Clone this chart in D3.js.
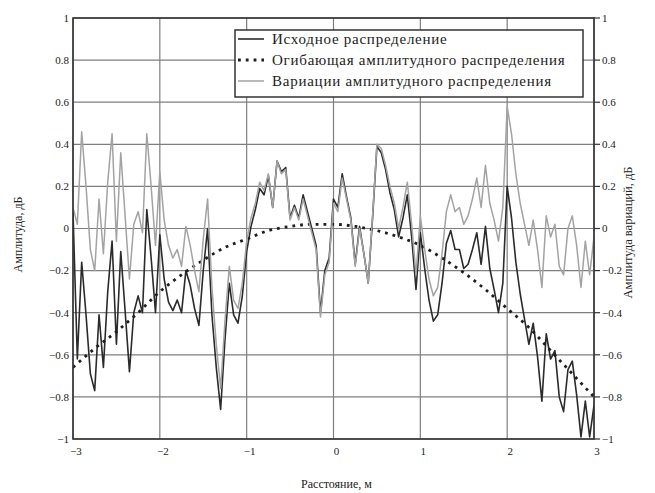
<!DOCTYPE html>
<html>
<head>
<meta charset="utf-8">
<script src="https://cdn.jsdelivr.net/npm/d3@7"></script>
<style>
  body { margin: 0; background: #fff; }
  text { font-family: "Liberation Serif", "DejaVu Serif", serif; fill: #222; }
</style>
</head>
<body>
<svg id="chart" width="655" height="493"></svg>
<script>
// Sampling grid along the distance axis, m (step 0.05)
const distance = d3.range(121).map(i => +(-3 + i * 0.05).toFixed(2));

// Original amplitude distribution, dB (left axis)
const original = [
  0.08, -0.62, -0.16, -0.41, -0.69, -0.77, -0.41, -0.66, -0.30, -0.06,
  -0.55, -0.11, -0.39, -0.68, -0.40, -0.32, -0.40, 0.09, -0.14, -0.40,
  -0.03, -0.24, -0.35, -0.39, -0.34, -0.40, -0.20, -0.27, -0.38, -0.46,
  -0.20, 0.00, -0.41, -0.66, -0.86, -0.53, -0.26, -0.41, -0.45, -0.32,
  -0.11, 0.01, 0.09, 0.19, 0.16, 0.25, 0.10, 0.32, 0.27, 0.29,
  0.05, 0.11, 0.05, 0.16, 0.08, 0.00, -0.08, -0.40, -0.20, -0.14,
  0.14, 0.10, 0.26, 0.15, 0.05, -0.17, 0.01, -0.12, -0.26, 0.05,
  0.39, 0.36, 0.28, 0.17, 0.09, -0.04, 0.05, 0.16, -0.04, -0.29,
  -0.02, -0.19, -0.34, -0.44, -0.41, -0.26, -0.07, -0.01, -0.10, -0.10,
  -0.19, -0.17, -0.10, -0.02, -0.17, 0.01, -0.19, -0.29, -0.40, -0.26,
  0.20, 0.05, -0.16, -0.31, -0.43, -0.55, -0.45, -0.61, -0.82, -0.50,
  -0.62, -0.58, -0.80, -0.87, -0.67, -0.63, -0.79, -0.99, -0.82, -0.99,
  -0.84
];

// Variations of the amplitude distribution, dB (right axis)
const variations = [
  0.10, 0.02, 0.46, 0.20, -0.10, -0.20, 0.14, -0.12, 0.22, 0.45,
  -0.06, 0.36, 0.06, -0.24, 0.02, 0.08, -0.02, 0.45, 0.20, -0.08,
  0.27, 0.04, -0.08, -0.14, -0.10, -0.18, 0.01, -0.08, -0.20, -0.30,
  -0.05, 0.14, -0.28, -0.55, -0.76, -0.44, -0.18, -0.34, -0.38, -0.26,
  -0.06, 0.05, 0.12, 0.22, 0.18, 0.26, 0.10, 0.32, 0.26, 0.28,
  0.04, 0.10, 0.04, 0.14, 0.06, -0.02, -0.10, -0.42, -0.22, -0.16,
  0.12, 0.08, 0.24, 0.14, 0.04, -0.18, 0.00, -0.12, -0.26, 0.06,
  0.40, 0.38, 0.30, 0.20, 0.12, 0.00, 0.10, 0.22, 0.02, -0.22,
  0.06, -0.10, -0.24, -0.32, -0.28, -0.12, 0.08, 0.16, 0.08, 0.10,
  0.02, 0.06, 0.14, 0.24, 0.10, 0.30, 0.12, 0.04, -0.06, 0.10,
  0.58, 0.45, 0.26, 0.12, 0.02, -0.08, 0.04, -0.10, -0.28, 0.06,
  -0.04, 0.02, -0.18, -0.22, 0.00, 0.06, -0.08, -0.28, -0.06, -0.22,
  -0.04
];

// Envelope of the amplitude distribution, dB
const envelopeDistance = [-3, -2.75, -2.5, -2.25, -2, -1.75, -1.5, -1.25, -1, -0.75, -0.5, -0.25,
  0, 0.25, 0.5, 0.75, 1, 1.25, 1.5, 1.75, 2, 2.25, 2.5, 2.75, 3];
const envelopeValues = [-0.66, -0.57, -0.49, -0.40, -0.30, -0.22, -0.15, -0.09, -0.05, -0.01, 0.01, 0.02,
  0.02, 0.01, -0.01, -0.04, -0.08, -0.14, -0.21, -0.29, -0.38, -0.47, -0.58, -0.69, -0.80];

const xTicks = [-3, -2, -1, 0, 1, 2, 3];
const yTicks = [-1, -0.8, -0.6, -0.4, -0.2, 0, 0.2, 0.4, 0.6, 0.8, 1];
const legendLabels = [
  "Исходное распределение",
  "Огибающая амплитудного распределения",
  "Вариации амплитудного распределения"
];
const xTitle = "Расстояние, м";
const yLeftTitle = "Амплитуда, дБ";
const yRightTitle = "Амплитуда вариаций, дБ";

const svg = d3.select("#chart");
const plot = { left: 73, right: 594, top: 18, bottom: 439 };

const x = d3.scaleLinear().domain([-3, 3]).range([plot.left, plot.right]);
const yLeft = d3.scaleLinear().domain([-1, 1]).range([plot.bottom, plot.top]);
const yRight = d3.scaleLinear().domain([-1, 1]).range([plot.bottom, plot.top]);

const fmt = v => d3.format("")(v).replace("-", "\u2212");

svg.append("defs").append("clipPath").attr("id", "plot-clip")
  .append("rect")
  .attr("x", plot.left).attr("y", plot.top)
  .attr("width", plot.right - plot.left).attr("height", plot.bottom - plot.top);

// Grid
const grid = svg.append("g").attr("stroke", "#7f7f7f").attr("stroke-width", 1.2);
grid.selectAll(".gx").data(xTicks).join("line")
  .attr("x1", d => x(d)).attr("x2", d => x(d))
  .attr("y1", plot.top).attr("y2", plot.bottom);
grid.selectAll(".gy").data(yTicks).join("line")
  .attr("x1", plot.left).attr("x2", plot.right)
  .attr("y1", d => yLeft(d)).attr("y2", d => yLeft(d));

// Series
const lines = svg.append("g").attr("clip-path", "url(#plot-clip)").attr("fill", "none");

const lineOriginal = d3.line().x((d, i) => x(distance[i])).y(d => yLeft(d));
const lineVariation = d3.line().x((d, i) => x(distance[i])).y(d => yRight(d));
const lineEnvelope = d3.line().curve(d3.curveMonotoneX)
  .x((d, i) => x(envelopeDistance[i])).y(d => yLeft(d));

lines.append("path").datum(original)
  .attr("d", lineOriginal)
  .attr("stroke", "#2b2b2b").attr("stroke-width", 1.6).attr("stroke-linejoin", "round");

lines.append("path").datum(envelopeValues)
  .attr("d", lineEnvelope)
  .attr("stroke", "#1e1e1e").attr("stroke-width", 2.8)
  .attr("stroke-dasharray", "2.8,5");

lines.append("path").datum(variations)
  .attr("d", lineVariation)
  .attr("stroke", "#a3a3a3").attr("stroke-width", 1.5).attr("stroke-linejoin", "round");

// Frame
svg.append("rect")
  .attr("x", plot.left).attr("y", plot.top)
  .attr("width", plot.right - plot.left).attr("height", plot.bottom - plot.top)
  .attr("fill", "none").attr("stroke", "#333").attr("stroke-width", 1.6);

// Left axis labels
svg.append("g").selectAll("text").data(yTicks).join("text")
  .attr("x", plot.left - 4).attr("y", d => yLeft(d))
  .attr("dy", "0.35em").attr("text-anchor", "end")
  .attr("font-size", 11).text(fmt);

// Right axis ticks and labels
const right = svg.append("g");
right.selectAll("line").data(yTicks).join("line")
  .attr("x1", plot.right).attr("x2", plot.right + 6)
  .attr("y1", d => yRight(d)).attr("y2", d => yRight(d))
  .attr("stroke", "#333").attr("stroke-width", 1.2);
right.selectAll("text").data(yTicks).join("text")
  .attr("x", plot.right + 8).attr("y", d => yRight(d))
  .attr("dy", "0.35em").attr("text-anchor", "start")
  .attr("font-size", 11).text(fmt);

// Bottom axis labels
svg.append("g").selectAll("text").data(xTicks).join("text")
  .attr("x", d => x(d) + 3).attr("y", plot.bottom + 16)
  .attr("text-anchor", "middle").attr("font-size", 11).text(fmt);

// Axis titles
svg.append("text").attr("x", (plot.left + plot.right) / 2 + 3).attr("y", 488)
  .attr("text-anchor", "middle").attr("font-size", 12).text(xTitle);
svg.append("text")
  .attr("transform", `translate(22,${(plot.top + plot.bottom) / 2 + 6}) rotate(-90)`)
  .attr("text-anchor", "middle").attr("font-size", 12).text(yLeftTitle);
svg.append("text")
  .attr("transform", `translate(632,${(plot.top + plot.bottom) / 2 + 4}) rotate(-90)`)
  .attr("text-anchor", "middle").attr("font-size", 12.5).text(yRightTitle);

// Legend
const legend = svg.append("g");
legend.append("rect")
  .attr("x", 235).attr("y", 30).attr("width", 348).attr("height", 67)
  .attr("fill", "#fff").attr("stroke", "#333").attr("stroke-width", 1.5);
const rowY = [39, 60, 81];
const legendStyles = [
  { stroke: "#2b2b2b", width: 1.6, dash: null },
  { stroke: "#1e1e1e", width: 2.8, dash: "2.8,5" },
  { stroke: "#a3a3a3", width: 1.5, dash: null }
];
legendLabels.forEach((label, i) => {
  legend.append("line")
    .attr("x1", 238).attr("x2", 264).attr("y1", rowY[i]).attr("y2", rowY[i])
    .attr("stroke", legendStyles[i].stroke).attr("stroke-width", legendStyles[i].width)
    .attr("stroke-dasharray", legendStyles[i].dash);
  legend.append("text")
    .attr("x", 272).attr("y", rowY[i]).attr("dy", "0.35em")
    .attr("font-size", 15).attr("letter-spacing", 0.75).text(label);
});
</script>
</body>
</html>
